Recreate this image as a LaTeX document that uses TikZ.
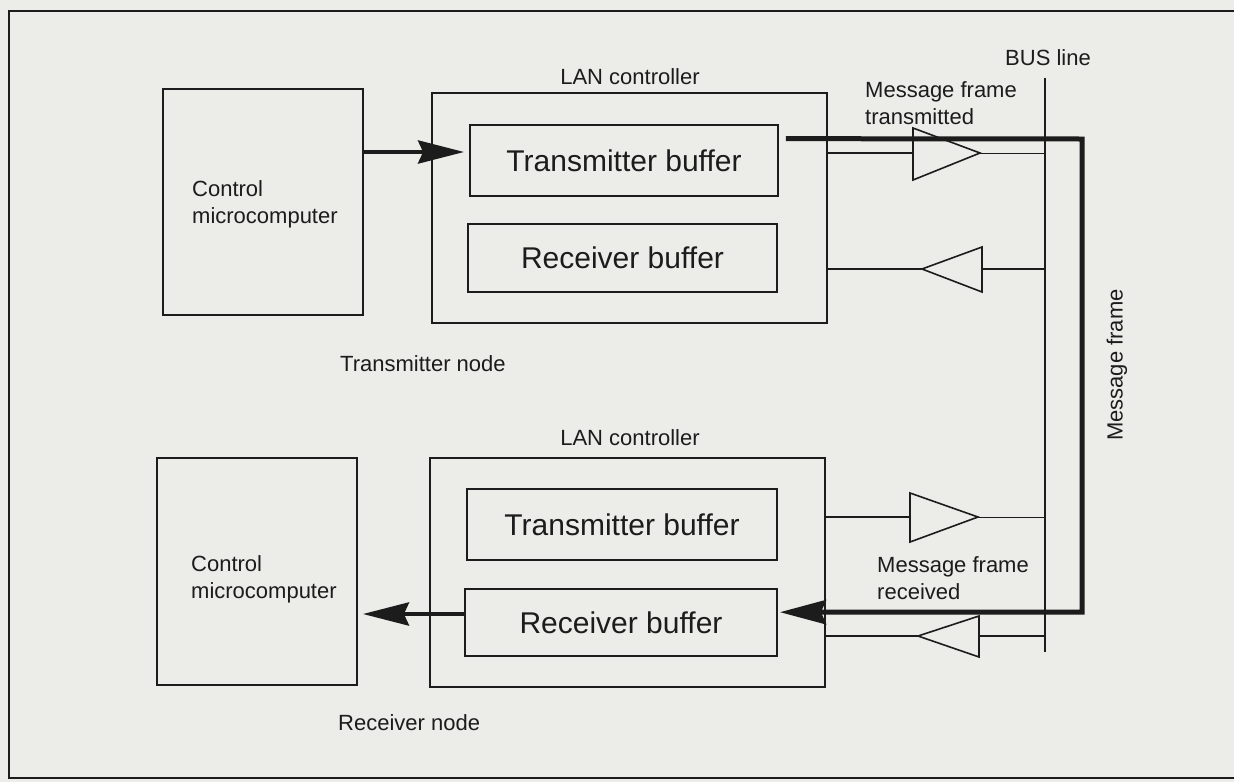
\documentclass[tikz,border=0pt]{standalone}
\usepackage{fontspec}
\setmainfont{Liberation Sans}
\usetikzlibrary{arrows.meta,calc}
\definecolor{bg}{RGB}{236,236,233}
\definecolor{ink}{RGB}{28,28,28}
\begin{document}
\begin{tikzpicture}[x=1pt,y=-1pt,
  box/.style={draw=ink, line width=1.8pt, inner sep=0pt},
  lbl/.style={font=\fontsize{22}{27}\selectfont, text=ink, inner sep=0pt, align=left},
  buftext/.style={font=\fontsize{30}{34}\selectfont, text=ink},
  wire/.style={draw=ink, line width=1.8pt},
  thinwire/.style={draw=ink, line width=1pt},
  busline/.style={draw=ink, line width=1.4pt},
  bigarrow/.style={draw=ink, line width=4.5pt, -{Stealth[length=46pt,width=23pt,inset=5pt]}},
  frameline/.style={draw=ink, line width=5pt, line join=miter, -{Stealth[length=46pt,width=24pt,inset=5pt]}},
  amp/.style={draw=ink, line width=1.6pt, fill=bg, line join=miter}]
\fill[bg] (0,0) rectangle (1234,782);
\useasboundingbox (0,0) rectangle (1234,782);
\draw[ink, line width=2pt] (1240,11) -- (9,11) -- (9,778) -- (1240,778);

% ---------- transmitter node ----------
\node[box, minimum width=200pt, minimum height=226pt] (cm1) at (263,202) {};
\node[lbl, anchor=west] (cm1t) at (192,204) {Control\\microcomputer};
\node[box, minimum width=395pt, minimum height=230pt] (lan1) at (629.5,208) {};
\node[lbl] (lan1t) at (630,77) {LAN controller};
\node[box, buftext, minimum width=308pt, minimum height=71pt] (tb1) at (624,160.5) {Transmitter buffer};
\node[box, buftext, minimum width=309pt, minimum height=68pt] (rb1) at (622.5,258) {Receiver buffer};
\node[lbl, anchor=west] (tnode) at (340,364) {Transmitter node};

% ---------- receiver node ----------
\node[box, minimum width=200pt, minimum height=227pt] (cm2) at (257,571.5) {};
\node[lbl, anchor=west] (cm2t) at (191,579) {Control\\microcomputer};
\node[box, minimum width=395pt, minimum height=229pt] (lan2) at (627.5,572.5) {};
\node[lbl] (lan2t) at (630,438) {LAN controller};
\node[box, buftext, minimum width=310pt, minimum height=71pt] (tb2) at (622,524.5) {Transmitter buffer};
\node[box, buftext, minimum width=312pt, minimum height=67pt] (rb2) at (621,622.5) {Receiver buffer};
\node[lbl, anchor=west] (rnode) at (338,723) {Receiver node};

% ---------- bus line ----------
\coordinate (bustop) at (1045,78);
\coordinate (busbot) at (1045,652);
\draw[busline] (bustop) -- (busbot);
\node[lbl, anchor=west] (buslbl) at (1005,58) {BUS line};
\node[lbl, anchor=west] (mft) at (865,103) {Message frame\\transmitted};
\node[lbl, anchor=west] (mfr) at (877,578) {Message frame\\received};
\node[lbl, rotate=90] (mf) at (1117,365) {Message frame};

% ---------- amplifiers ----------
% top transmit
\coordinate (a1in) at (913,153); \coordinate (a1out) at (980,153);
\draw[amp] (913,128) -- (a1out) -- (913,180) -- cycle;
\draw[wire] (lan1.east |- a1in) -- (a1in);
\draw[thinwire] (a1out) -- (bustop |- a1out);
% top receive
\coordinate (a2in) at (982,269); \coordinate (a2out) at (922,269);
\draw[amp] (982,247) -- (a2out) -- (982,292) -- cycle;
\draw[wire] (bustop |- a2in) -- (a2in);
\draw[wire] (a2out) -- (lan1.east |- a2out);
% bottom transmit
\coordinate (a3in) at (910,517); \coordinate (a3out) at (978,517);
\draw[amp] (910,493) -- (a3out) -- (910,542) -- cycle;
\draw[wire] (lan2.east |- a3in) -- (a3in);
\draw[thinwire] (a3out) -- (bustop |- a3out);
% bottom receive
\coordinate (a4in) at (979,636); \coordinate (a4out) at (918,636);
\draw[amp] (979,616) -- (a4out) -- (979,657) -- cycle;
\draw[wire] (bustop |- a4in) -- (a4in);
\draw[wire] (a4out) -- (lan2.east |- a4out);

% ---------- data flow arrows ----------
\coordinate (y1) at (0,152);
\draw[bigarrow] (cm1.east |- y1) -- ([xshift=-5pt]tb1.west |- y1);
\coordinate (y2) at (0,614);
\draw[bigarrow] (rb2.west |- y2) -- ([xshift=5pt]cm2.east |- y2);

\coordinate (fstart) at ($(tb1.north east)!0.2!(tb1.south east)+(7,0)$);
\coordinate (fend) at ($(rb2.north east)!0.35!(rb2.south east)+(2,0)$);
\draw[frameline] (fstart) -- (1082,139) -- (1082,612) -- (fend);
\end{tikzpicture}
\end{document}
